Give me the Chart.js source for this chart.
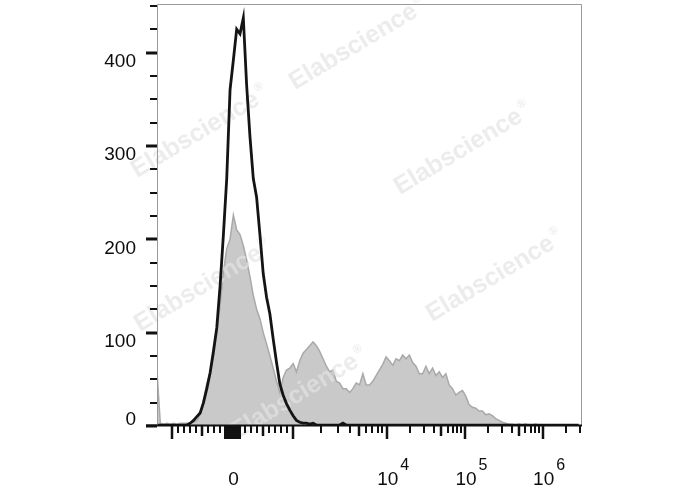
<!DOCTYPE html>
<html>
<head>
<meta charset="utf-8">
<script src="https://cdn.jsdelivr.net/npm/chart.js@4.4.1/dist/chart.umd.min.js"></script>
<style>
  html, body { margin: 0; padding: 0; background: #fff; }
  #wrap { width: 688px; height: 490px; position: relative; }
</style>
</head>
<body>
<div id="wrap"><canvas id="histChart"></canvas></div>
<script>
// histogram counts per display bin (128 bins across the logicle axis)
const binCount = 128;

const stainedCounts = [
  58, 3, 2, 3, 2, 3, 2, 3, 3, 3,
  3, 4, 6, 12, 28, 45, 57, 74, 100, 130,
  165, 190, 200, 226, 210, 205, 193, 178, 160, 140,
  125, 115, 100, 88, 75, 62, 48, 36, 52, 60,
  62, 67, 58, 70, 78, 82, 86, 90, 86, 80,
  72, 64, 58, 60, 48, 46, 40, 40, 36, 40,
  46, 44, 56, 44, 44, 48, 54, 60, 66, 74,
  70, 65, 72, 70, 76, 72, 76, 68, 64, 56,
  56, 64, 56, 62, 54, 58, 52, 56, 44, 40,
  33, 36, 38, 32, 23, 20, 19, 16, 16, 12,
  13, 11, 8, 6, 4, 3, 2, 2, 1, 2,
  1, 2, 1, 1, 2, 1, 0, 0, 0, 0,
  0, 0, 0, 0, 0, 0, 0, 0
];

const controlCounts = [
  1, 1, 1, 1, 1, 1, 1, 1, 1, 1,
  3, 6, 10, 14, 25, 40, 57, 80, 105, 150,
  205, 265, 360, 392, 425, 420, 437, 365, 310, 265,
  245, 205, 163, 138, 120, 93, 68, 45, 33, 24,
  17, 11, 6, 4, 3, 3, 2, 3, 1, 1,
  1, 1, 1, 1, 1, 1, 3, 1, 1, 1,
  1, 1, 1, 1, 1, 1, 1, 1, 1, 1,
  1, 1, 1, 1, 1, 1, 1, 1, 1, 1,
  1, 1, 1, 1, 1, 1, 1, 1, 1, 1,
  1, 1, 1, 1, 1, 1, 1, 1, 1, 1,
  1, 1, 1, 1, 1, 1, 1, 1, 1, 1,
  1, 1, 1, 1, 1, 1, 1, 1, 1, 1,
  1, 1, 1, 1, 1, 1, 1, 1
];

// y axis
const yMax = 452;
const yMajorTicks = [0, 100, 200, 300, 400];
const yMinorTicks = [25, 50, 75, 125, 150, 175, 225, 250, 275, 325, 350, 375, 425, 450];

// x axis (logicle display): where 0 and each decade sit on the bin axis
const decadeValues = [0, 1e3, 1e4, 1e5, 1e6, 1e7];
const decadeBins = [22.74, 41.05, 69.18, 92.76, 116.16, 139.56];

const xLabelValues = [0, 1e4, 1e5, 1e6];
const xLabelBase = ["0", "10", "10", "10"];
const xLabelExp = ["", "4", "5", "6"];

const xMajorValues = [-1e3, 1e3, 1e4, 1e5, 1e6];
const xZeroValues = [-125, -100, -75, -50, -25, 0, 25, 50, 75, 100, 125];
const xMediumValues = [-500, 500, 5e3, 5e4, 5e5];
const xMinorValues = [];
[-900, -800, -700, -600, -400, -300, -200, 200, 300, 400, 600, 700, 800, 900]
  .forEach(v => xMinorValues.push(v));
[1e3, 1e4, 1e5].forEach(d => {
  [2, 3, 4, 6, 7, 8, 9].forEach(m => xMinorValues.push(m * d));
});
xMinorValues.push(2e6, 3e6);

function toBin(v) {
  const a = Math.abs(v);
  let pos;
  if (a <= 1e3) {
    pos = (a / 1e3) * (decadeBins[1] - decadeBins[0]);
  } else {
    const k = Math.floor(Math.log10(a));
    const i = k - 2;
    const frac = Math.log10(a) - k;
    pos = decadeBins[i] + frac * (decadeBins[i + 1] - decadeBins[i]) - decadeBins[0];
  }
  return v < 0 ? decadeBins[0] - pos : decadeBins[0] + pos;
}

const watermarks = [
  [295, 90], [137, 178], [400, 195], [140, 332], [432, 322], [236, 440]
];

const axisPlugin = {
  id: "flowAxes",
  afterDatasetDraw(chart, args) {
    if (args.index !== 1) return;
    const ctx = chart.ctx;
    ctx.save();
    ctx.fillStyle = "rgba(227,227,227,0.68)";
    watermarks.forEach(([wx, wy]) => {
      ctx.save();
      ctx.translate(wx, wy);
      ctx.rotate(-31 * Math.PI / 180);
      ctx.font = "bold 25px 'Liberation Sans', Arial, sans-serif";
      ctx.textBaseline = "alphabetic";
      ctx.fillText("Elabscience", 0, 0);
      const w = ctx.measureText("Elabscience").width;
      ctx.font = "bold 12px 'Liberation Sans', Arial, sans-serif";
      ctx.fillText("\u00AE", w + 2, -12);
      ctx.restore();
    });
    ctx.restore();
  },
  afterDatasetsDraw(chart) {
    const { ctx, chartArea: a } = chart;
    ctx.save();
    ctx.strokeStyle = "#9a9a9a";
    ctx.lineWidth = 1;
    ctx.beginPath();
    ctx.moveTo(a.left + 0.5, a.bottom);
    ctx.lineTo(a.left + 0.5, a.top + 0.5);
    ctx.lineTo(a.right - 0.5, a.top + 0.5);
    ctx.lineTo(a.right - 0.5, a.bottom);
    ctx.stroke();
    ctx.strokeStyle = "#111";
    ctx.lineWidth = 2;
    ctx.beginPath();
    ctx.moveTo(a.left - 11, a.bottom - 0.5);
    ctx.lineTo(a.right, a.bottom - 0.5);
    ctx.stroke();
    ctx.restore();
  },
  afterDraw(chart) {
    const { ctx, chartArea: a } = chart;
    const xs = chart.scales.x, ys = chart.scales.y;
    ctx.save();
    ctx.strokeStyle = "#111";

    // x tick marks
    const xTick = (vals, len, w) => {
      ctx.lineWidth = w;
      ctx.beginPath();
      vals.forEach(v => {
        const px = Math.round(xs.getPixelForValue(toBin(v)));
        ctx.moveTo(px, a.bottom);
        ctx.lineTo(px, a.bottom + len);
      });
      ctx.stroke();
    };
    xTick(xMinorValues, 7, 2);
    xTick(xMediumValues, 10, 2.5);
    xTick(xMajorValues, 13, 2.5);
    xTick(xZeroValues, 13, 2);

    // y tick marks
    const yTick = (vals, len, w) => {
      ctx.lineWidth = w;
      ctx.beginPath();
      vals.forEach(v => {
        const py = Math.round(ys.getPixelForValue(v));
        ctx.moveTo(a.left - len, py);
        ctx.lineTo(a.left, py);
      });
      ctx.stroke();
    };
    yTick(yMinorTicks, 7, 2);
    yTick(yMajorTicks, 11, 3);

    // labels
    ctx.fillStyle = "#0d0d0d";
    ctx.font = "19px 'Liberation Sans', Arial, sans-serif";
    ctx.textAlign = "right";
    ctx.textBaseline = "alphabetic";
    yMajorTicks.forEach(v => {
      const py = ys.getPixelForValue(v);
      ctx.fillText(String(v), a.left - 21, v === 0 ? py - 1 : py + 14.5);
    });

    xLabelValues.forEach((v, i) => {
      const px = xs.getPixelForValue(toBin(v)) + 1;
      ctx.font = "19px 'Liberation Sans', Arial, sans-serif";
      ctx.textAlign = "center";
      ctx.fillText(xLabelBase[i], px, 485);
      if (xLabelExp[i]) {
        const w = ctx.measureText(xLabelBase[i]).width;
        ctx.font = "16px 'Liberation Sans', Arial, sans-serif";
        ctx.textAlign = "left";
        ctx.fillText(xLabelExp[i], px + w / 2 + 2, 470);
      }
    });
    ctx.restore();
  }
};

const bins = stainedCounts.map((_, i) => i);

new Chart(document.getElementById("histChart").getContext("2d"), {
  type: "line",
  data: {
    labels: bins,
    datasets: [
      {
        label: "Control",
        data: controlCounts.map((c, i) => ({ x: bins[i], y: c })),
        borderColor: "#141414",
        borderWidth: 2.8,
        fill: false,
        pointRadius: 0,
        tension: 0
      },
      {
        label: "Stained",
        data: stainedCounts.map((c, i) => ({ x: bins[i], y: c })),
        borderColor: "#a9a9a9",
        backgroundColor: "#c9c9c9",
        borderWidth: 1.5,
        fill: "origin",
        pointRadius: 0,
        tension: 0
      }
    ]
  },
  options: {
    responsive: true,
    maintainAspectRatio: false,
    animation: false,
    layout: { padding: { left: 157, right: 106, top: 4, bottom: 64 } },
    plugins: { legend: { display: false }, tooltip: { enabled: false } },
    scales: {
      x: { type: "linear", min: 0, max: binCount, display: false },
      y: { type: "linear", min: 0, max: yMax, display: false }
    }
  },
  plugins: [axisPlugin]
});
</script>
</body>
</html>
